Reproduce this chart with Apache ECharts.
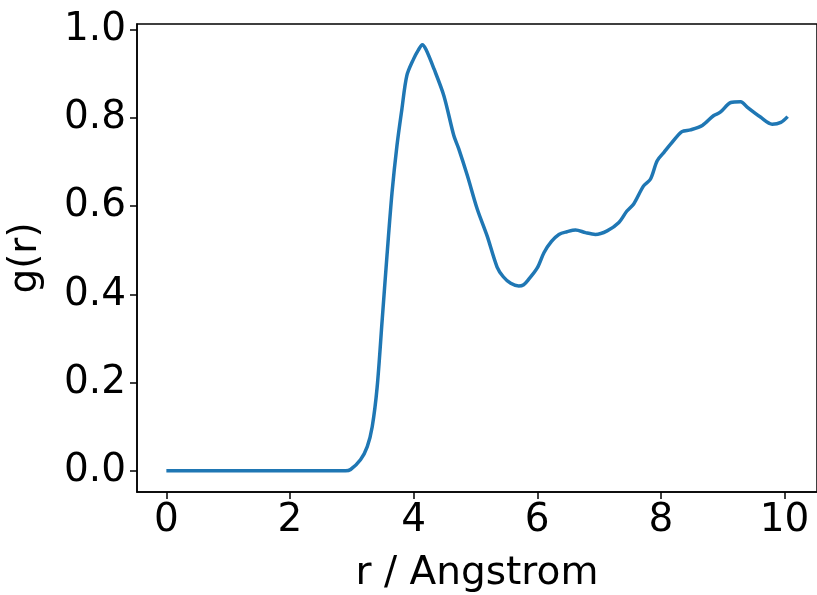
<!DOCTYPE html>
<html>
<head>
<meta charset="utf-8">
<script src="https://cdn.jsdelivr.net/npm/echarts@6/dist/echarts.min.js"></script>
<style>
  html, body { margin: 0; padding: 0; background: #fff; }
  #chart { width: 817px; height: 595px; }
</style>
</head>
<body>
<div id="chart"></div>
<script>
// radial distribution function
var rValues = [0, 0.5, 1, 1.5, 2, 2.5, 2.9, 2.98, 3.14, 3.25, 3.33, 3.41, 3.49, 3.57, 3.65,
  3.73, 3.81, 3.89, 4.0, 4.08, 4.14, 4.2, 4.33, 4.49, 4.65, 4.73, 4.87, 5.03, 5.19, 5.35,
  5.45, 5.57, 5.7, 5.78, 5.86, 6.0, 6.11, 6.23, 6.35, 6.48, 6.62, 6.78, 6.94, 7.13, 7.32,
  7.45, 7.56, 7.72, 7.83, 7.94, 8.05, 8.16, 8.34, 8.48, 8.67, 8.85, 8.96, 9.13, 9.29, 9.4,
  9.61, 9.8, 9.94, 10.05];
var gValues = [0, 0, 0, 0, 0, 0, 0, 0.003, 0.025, 0.055, 0.10, 0.19, 0.34, 0.49, 0.63,
  0.737, 0.82, 0.896, 0.934, 0.955, 0.966, 0.955, 0.911, 0.85, 0.76, 0.73, 0.669, 0.593, 0.532, 0.462,
  0.44, 0.425, 0.419, 0.422, 0.434, 0.46, 0.495, 0.52, 0.536, 0.542, 0.546, 0.54, 0.536, 0.544, 0.563,
  0.589, 0.605, 0.646, 0.661, 0.703, 0.722, 0.741, 0.769, 0.773, 0.783, 0.805, 0.813, 0.835, 0.837, 0.824,
  0.802, 0.786, 0.79, 0.803];

var xTicks = [0, 2, 4, 6, 8, 10];
var yTicks = [0, 0.2, 0.4, 0.6, 0.8, 1.0];

var points = rValues.map(function (r, i) { return [r, gValues[i]]; });

var chart = echarts.init(document.getElementById('chart'), null, { renderer: 'canvas' });
var font = 'DejaVu Sans';
var fs = 39;

chart.setOption({
  animation: false,
  backgroundColor: '#fff',
  grid: {
    left: 137, right: 0, top: 24, bottom: 103,
    outerBoundsMode: 'none',
    show: true, borderColor: '#000', borderWidth: 1.5
  },
  xAxis: {
    type: 'value',
    min: -0.475, max: 10.525,
    name: 'r / Angstrom',
    nameLocation: 'middle',
    nameGap: 62,
    nameTextStyle: { fontFamily: font, fontSize: fs, color: '#000' },
    axisLine: { show: true, onZero: false, lineStyle: { color: '#000', width: 1.5 } },
    axisTick: { show: true, length: 7, customValues: xTicks, lineStyle: { color: '#000', width: 1.5 } },
    axisLabel: { customValues: xTicks, fontFamily: font, fontSize: fs, color: '#000', margin: 9 },
    splitLine: { show: false }
  },
  yAxis: {
    type: 'value',
    min: -0.048, max: 1.013,
    name: 'g(r)',
    nameLocation: 'middle',
    nameGap: 92,
    nameTextStyle: { fontFamily: font, fontSize: fs, color: '#000' },
    axisLine: { show: true, onZero: false, lineStyle: { color: '#000', width: 1.5 } },
    axisTick: { show: true, length: 7, customValues: yTicks, lineStyle: { color: '#000', width: 1.5 } },
    axisLabel: {
      customValues: yTicks, fontFamily: font, fontSize: fs, color: '#000', margin: 11,
      formatter: function (v) { return v.toFixed(1); }
    },
    splitLine: { show: false }
  },
  series: [{
    type: 'line',
    data: points,
    showSymbol: false,
    smooth: 0.3,
    lineStyle: { color: '#1f77b4', width: 3.5 },
    itemStyle: { color: '#1f77b4' }
  }]
});
</script>
</body>
</html>
